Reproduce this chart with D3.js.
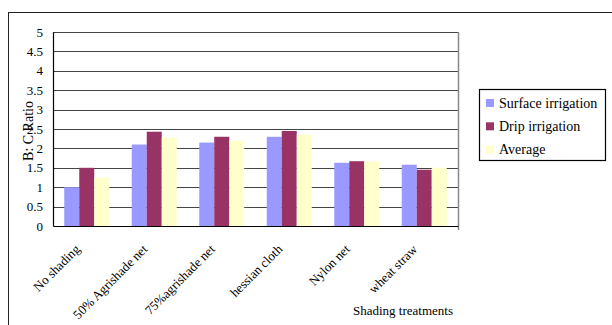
<!DOCTYPE html>
<html>
<head>
<meta charset="utf-8">
<script src="https://cdn.jsdelivr.net/npm/d3@7"></script>
<style>
  body { margin: 0; background: #fff; }
  svg text { font-family: "Times New Roman", "Liberation Serif", "DejaVu Serif", serif; fill: #000; }
</style>
</head>
<body>
<div id="chart"></div>
<script>
// values
let categories = ["No shading", "50% Agrishade net", "75%agrishade net", "hessian cloth", "Nylon net", "wheat straw"];
let seriesNames = ["Surface irrigation", "Drip irrigation", "Average"];
let surface = [1.0, 2.1, 2.15, 2.3, 1.63, 1.58];
let drip = [1.5, 2.43, 2.3, 2.45, 1.67, 1.45];
let average = [1.25, 2.28, 2.2, 2.35, 1.67, 1.5];
let yTicks = [0, 0.5, 1, 1.5, 2, 2.5, 3, 3.5, 4, 4.5, 5];
let colors = ["#9999ff", "#993366", "#ffffcc"];

let W = 612, H = 325;
let margin = {top: 32, left: 53, right: 154, bottom: 99};
let width = W - margin.left - margin.right,
    height = H - margin.top - margin.bottom;
let serif = "'Times New Roman', 'Liberation Serif', serif";

let svg = d3.select("#chart")
    .append("svg")
        .attr("width", W)
        .attr("height", H);

// outer frame (runs off the right and bottom)
svg.append("rect")
    .attr("x", 8.5).attr("y", 12.5)
    .attr("width", 640).attr("height", 340)
    .attr("fill", "none").attr("stroke", "#222").attr("stroke-width", 1);

let g = svg.append("g")
    .attr("transform", "translate(" + margin.left + "," + margin.top + ")");

let x = d3.scaleBand()
    .range([0, width])
    .domain(categories)
    .paddingInner(1 / 3)
    .paddingOuter(1 / 6);

let x1 = d3.scaleBand()
    .range([0, x.bandwidth()])
    .domain(seriesNames);

let y = d3.scaleLinear()
    .domain([0, 5])
    .range([height, 0]);

// grid lines
g.selectAll(".grid")
    .data(yTicks.slice(1))
    .enter()
    .append("line")
        .attr("x1", 0).attr("x2", width)
        .attr("y1", function(d) { return Math.round(y(d)) + 0.5; })
        .attr("y2", function(d) { return Math.round(y(d)) + 0.5; })
        .attr("stroke", "#444")
        .attr("stroke-width", 1.2);

// right edge of plot area
g.append("line")
    .attr("x1", width + 0.5).attr("x2", width + 0.5)
    .attr("y1", 0).attr("y2", height + 4)
    .attr("stroke", "#888").attr("stroke-width", 1.5);

let data = [surface, drip, average];
seriesNames.forEach(function(name, i) {
    g.selectAll(".bar" + i)
        .data(data[i])
        .enter()
        .append("rect")
            .attr("x", function(d, j) { return x(categories[j]) + x1(name); })
            .attr("y", function(d) { return y(d); })
            .attr("width", x1.bandwidth())
            .attr("height", function(d) { return height - y(d); })
            .attr("fill", colors[i]);
});

// y axis
let yAxis = g.append("g")
    .call(d3.axisLeft(y).tickValues(yTicks).tickSize(0).tickPadding(10).tickFormat(d3.format("")));
yAxis.attr("font-family", serif).attr("font-size", 13);
yAxis.select(".domain").attr("stroke", "#000").attr("stroke-width", 1.2);

// x axis
let xAxis = g.append("g")
    .attr("transform", "translate(0," + height + ")")
    .call(d3.axisBottom(x).tickSize(0));
xAxis.attr("font-family", serif).attr("font-size", 13);
xAxis.select(".domain").attr("stroke", "#000").attr("stroke-width", 1.2);
xAxis.selectAll("text")
    .style("text-anchor", "end")
    .attr("x", 0).attr("y", 0).attr("dy", 0)
    .attr("transform", "translate(-6,24)rotate(-45)");

// axis titles
svg.append("text")
    .attr("transform", "translate(33,131)rotate(-90)")
    .attr("text-anchor", "middle")
    .style("font-size", "14px")
    .text("B: C Ratio");

svg.append("text")
    .attr("x", 403).attr("y", 315)
    .attr("text-anchor", "middle")
    .style("font-size", "13px")
    .text("Shading treatments");

// legend
let legend = svg.append("g").attr("transform", "translate(479,89)");
legend.append("rect")
    .attr("x", 0.5).attr("y", 0.5)
    .attr("width", 126).attr("height", 71)
    .attr("fill", "#fff").attr("stroke", "#000").attr("stroke-width", 1.2);
seriesNames.forEach(function(name, i) {
    let row = legend.append("g").attr("transform", "translate(7," + (14 + i * 23.3) + ")");
    row.append("rect")
        .attr("x", 0).attr("y", -4)
        .attr("width", 8).attr("height", 8)
        .attr("fill", colors[i]);
    row.append("text")
        .attr("x", 13).attr("y", 4.5)
        .style("font-size", "14px")
        .text(name);
});
</script>
</body>
</html>
